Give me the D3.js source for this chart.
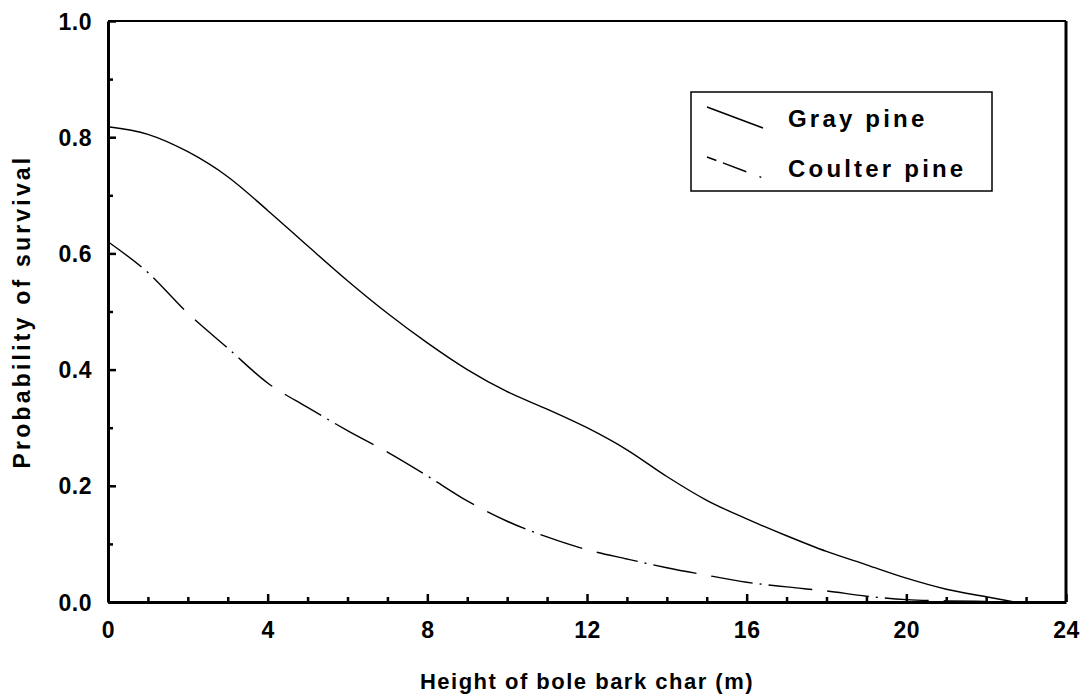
<!DOCTYPE html>
<html>
<head>
<meta charset="utf-8">
<script src="https://cdn.jsdelivr.net/npm/d3@7"></script>
<style>
  body { margin: 0; background: #fff; }
  svg { display: block; font-family: "Liberation Sans", Arial, sans-serif; font-weight: bold; }
</style>
</head>
<body>
<svg id="mainSvg" width="1086" height="696"></svg>
<script>
// bark char height (m)
var heights = [0, 1, 2, 3, 4, 5, 6, 7, 8, 9, 10, 11, 12, 13, 14, 15, 16, 17, 18, 19, 20, 21, 22, 22.7];
var grayPine = [0.818, 0.805, 0.775, 0.732, 0.674, 0.613, 0.553, 0.497, 0.446, 0.400, 0.362, 0.332, 0.300, 0.262, 0.216, 0.175, 0.143, 0.114, 0.087, 0.064, 0.041, 0.022, 0.009, 0.0];
var coulterHeights = [0, 1, 2, 3, 4, 5, 6, 7, 8, 9, 10, 11, 12, 13, 14, 15, 16, 17, 18, 19, 20, 21, 22];
var coulterPine = [0.620, 0.567, 0.497, 0.437, 0.377, 0.335, 0.295, 0.258, 0.217, 0.174, 0.139, 0.112, 0.090, 0.074, 0.059, 0.046, 0.034, 0.026, 0.019, 0.010, 0.004, 0.002, 0.001];
var xTicks = [0, 4, 8, 12, 16, 20, 24];
var yTicks = [0, 0.2, 0.4, 0.6, 0.8, 1.0];
var legendNames = ["Gray pine", "Coulter pine"];

var margin = {top: 21, right: 20, bottom: 94, left: 108},
    width = 1066 - margin.left,
    height = 602 - margin.top;

var x = d3.scaleLinear().domain([0, 24]).range([0, width]);
var y = d3.scaleLinear().domain([0, 1]).range([height, 0]);

var svg = d3.select("#mainSvg");
var g = svg.append("g").attr("transform", "translate(" + margin.left + "," + margin.top + ")");

// frame top + right
g.append("line").attr("x1", 0).attr("x2", width).attr("y1", 0).attr("y2", 0)
  .attr("stroke", "#000").attr("stroke-width", 2.2);
g.append("line").attr("x1", width).attr("x2", width).attr("y1", 0).attr("y2", height)
  .attr("stroke", "#000").attr("stroke-width", 3);

// minor ticks
var xMinor = g.append("g").attr("transform", "translate(0," + height + ")")
  .call(d3.axisBottom(x).tickValues(d3.range(1, 24).filter(function(d){ return d % 4 !== 0; }))
    .tickSizeInner(-5).tickSizeOuter(0).tickFormat(""));
var yMinor = g.append("g")
  .call(d3.axisLeft(y).tickValues([0.1, 0.3, 0.5, 0.7, 0.9])
    .tickSizeInner(-5).tickSizeOuter(0).tickFormat(""));

// major axes
var xAxis = g.append("g").attr("transform", "translate(0," + height + ")")
  .call(d3.axisBottom(x).tickValues(xTicks).tickSizeInner(-8).tickSizeOuter(0).tickPadding(20)
    .tickFormat(d3.format("d")));
var yAxis = g.append("g")
  .call(d3.axisLeft(y).tickValues(yTicks).tickSizeInner(-8).tickSizeOuter(0).tickPadding(16)
    .tickFormat(d3.format(".1f")));

[xMinor, yMinor, xAxis, yAxis].forEach(function(a) {
  a.selectAll("path").attr("stroke", "#000").attr("stroke-width", 3);
  a.selectAll(".tick line").attr("stroke", "#000").attr("stroke-width", 2.5);
});
xMinor.select("path").remove();
yMinor.select("path").remove();
xAxis.selectAll("text").attr("font-size", 23).attr("font-family", "Liberation Sans, Arial").attr("font-weight", "bold").attr("fill", "#000")
  .attr("letter-spacing", 0.5);
yAxis.selectAll("text").attr("font-size", 23).attr("font-family", "Liberation Sans, Arial").attr("font-weight", "bold").attr("fill", "#000")
  .attr("dy", "0.35em").attr("letter-spacing", 0.5);

// axis titles
svg.append("text")
  .attr("x", margin.left + width / 2).attr("y", 689)
  .attr("text-anchor", "middle").attr("font-size", 22).attr("letter-spacing", 1.5)
  .text("Height of bole bark char (m)");

svg.append("text")
  .attr("transform", "translate(30," + (margin.top + height / 2) + ") rotate(-90)")
  .attr("text-anchor", "middle").attr("font-size", 23).attr("letter-spacing", 3.2)
  .text("Probability of survival");

// curves
var line = d3.line().curve(d3.curveMonotoneX)
  .x(function(d) { return x(d[0]); })
  .y(function(d) { return y(d[1]); });

g.append("path")
  .datum(d3.zip(heights, grayPine))
  .attr("fill", "none").attr("stroke", "#000").attr("stroke-width", 1.4)
  .attr("d", line);

var coulterDash = "42,7,2,7,44,15";
g.append("path")
  .datum(d3.zip(coulterHeights, coulterPine))
  .attr("fill", "none").attr("stroke", "#000").attr("stroke-width", 1.4)
  .attr("stroke-dasharray", coulterDash)
  .attr("d", line);

// legend
var legend = svg.append("g");
legend.append("rect").attr("x", 691).attr("y", 92).attr("width", 301).attr("height", 99)
  .attr("fill", "#fff").attr("stroke", "#000").attr("stroke-width", 1.5);

legend.selectAll(".legLine").data(legendNames).enter().append("line")
  .attr("class", "legLine")
  .attr("x1", 707).attr("x2", 763)
  .attr("y1", function(d, i) { return 107 + i * 50; })
  .attr("y2", function(d, i) { return 128 + i * 50; })
  .attr("stroke", "#000").attr("stroke-width", 1.4)
  .attr("stroke-dasharray", function(d, i) { return i === 0 ? null : "10,7,25,14,2"; });

legend.selectAll(".legText").data(legendNames).enter().append("text")
  .attr("class", "legText")
  .attr("x", 788)
  .attr("y", function(d, i) { return 127 + i * 50; })
  .attr("font-size", 24).attr("letter-spacing", 3.2)
  .text(function(d) { return d; });
</script>
</body>
</html>
